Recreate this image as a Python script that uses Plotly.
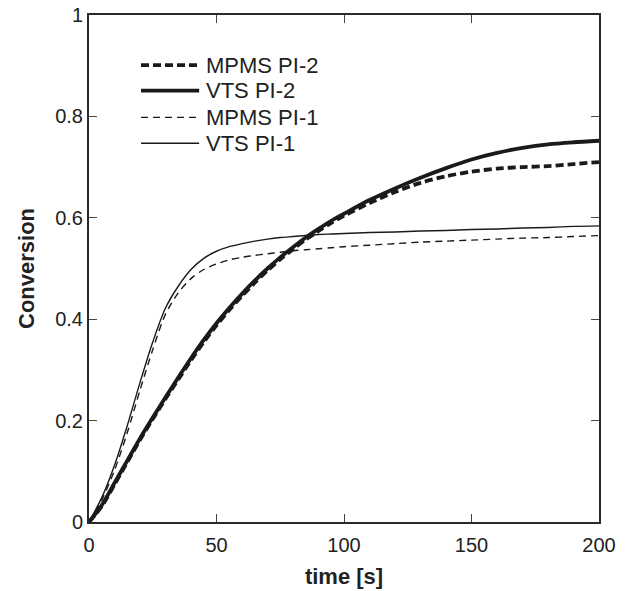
import plotly.graph_objects as go

t = [0, 5, 10, 15, 20, 25, 30, 35, 40, 45, 50, 55, 60, 65, 70, 75, 80, 85, 90, 95, 100, 110, 120, 130, 140, 150, 160, 170, 180, 190, 200]

vts_pi1 = [0, 0.048, 0.112, 0.19, 0.275, 0.355, 0.422, 0.465, 0.498, 0.52, 0.534, 0.543, 0.549, 0.554, 0.558, 0.561, 0.563, 0.565, 0.567, 0.568, 0.569, 0.571, 0.572, 0.574, 0.575, 0.577, 0.578, 0.580, 0.581, 0.583, 0.584]
mpms_pi1 = [0, 0.043, 0.102, 0.176, 0.26, 0.34, 0.41, 0.452, 0.48, 0.498, 0.509, 0.517, 0.522, 0.526, 0.529, 0.532, 0.535, 0.537, 0.539, 0.541, 0.543, 0.546, 0.549, 0.552, 0.554, 0.556, 0.558, 0.560, 0.561, 0.563, 0.565]
vts_pi2 = [0, 0.033, 0.077, 0.121, 0.165, 0.206, 0.246, 0.285, 0.323, 0.359, 0.392, 0.422, 0.45, 0.476, 0.5, 0.522, 0.542, 0.561, 0.578, 0.594, 0.608, 0.635, 0.658, 0.679, 0.698, 0.715, 0.728, 0.738, 0.745, 0.749, 0.752]
mpms_pi2 = [0, 0.031, 0.074, 0.118, 0.162, 0.203, 0.243, 0.281, 0.319, 0.355, 0.388, 0.418, 0.446, 0.472, 0.496, 0.518, 0.538, 0.557, 0.574, 0.590, 0.604, 0.629, 0.651, 0.669, 0.682, 0.691, 0.697, 0.700, 0.702, 0.706, 0.710]

names = ["MPMS PI-2", "VTS PI-2", "MPMS PI-1", "VTS PI-1"]
values = [mpms_pi2, vts_pi2, mpms_pi1, vts_pi1]
widths = [3.8, 3.8, 1.4, 1.4]
dashes = ["8px,4px", "solid", "7px,5px", "solid"]

FONT = "Liberation Sans, Arial"
INK = "#1a1a1a"

fig = go.Figure()
for name, ys, w, dash in zip(names, values, widths, dashes):
    fig.add_trace(go.Scatter(x=t, y=ys, mode="lines", name=name, showlegend=False,
                             line=dict(color=INK, width=w, dash=dash, shape="spline", smoothing=0.8)))

axis_common = dict(
    showgrid=False, zeroline=False, showline=True, linecolor="#2a2a2a", linewidth=2,
    mirror="ticks", ticks="inside", ticklen=8, tickwidth=1.2, tickcolor="#444",
    tickfont=dict(family=FONT, size=20, color="#222"), automargin=False,
)

fig.update_xaxes(range=[0, 200], tickvals=[0, 50, 100, 150, 200], ticklabelstandoff=4, **axis_common,
                 title=dict(text="<b>time [s]</b>", font=dict(family=FONT, size=22, color="#222"), standoff=14))
fig.update_yaxes(range=[0, 1], tickvals=[0, 0.2, 0.4, 0.6, 0.8, 1], ticktext=["0", "0.2", "0.4", "0.6", "0.8", "1"],
                 **axis_common,
                 title=dict(text="<b>Conversion</b>", font=dict(family=FONT, size=22, color="#222"), standoff=14))

# legend drawn as line samples + labels (paper coordinates)
leg_y = [0.901, 0.851, 0.798, 0.747]
shapes = []
annotations = []
for name, y, w, dash in zip(names, leg_y, widths, dashes):
    shapes.append(dict(type="line", xref="paper", yref="paper", x0=0.102, x1=0.216, y0=y, y1=y,
                       line=dict(color=INK, width=w, dash=dash)))
    annotations.append(dict(xref="paper", yref="paper", x=0.226, y=y, xanchor="left", yanchor="middle",
                            text=name, showarrow=False, font=dict(family=FONT, size=22, color="#222")))

fig.update_layout(
    width=635, height=591,
    margin=dict(l=89, r=36, t=15, b=69),
    paper_bgcolor="white", plot_bgcolor="white",
    showlegend=False, shapes=shapes, annotations=annotations,
)

fig.write_html("out.html", config={"displayModeBar": False},
               post_script="document.body.style.margin='0';document.body.style.overflow='hidden';")
